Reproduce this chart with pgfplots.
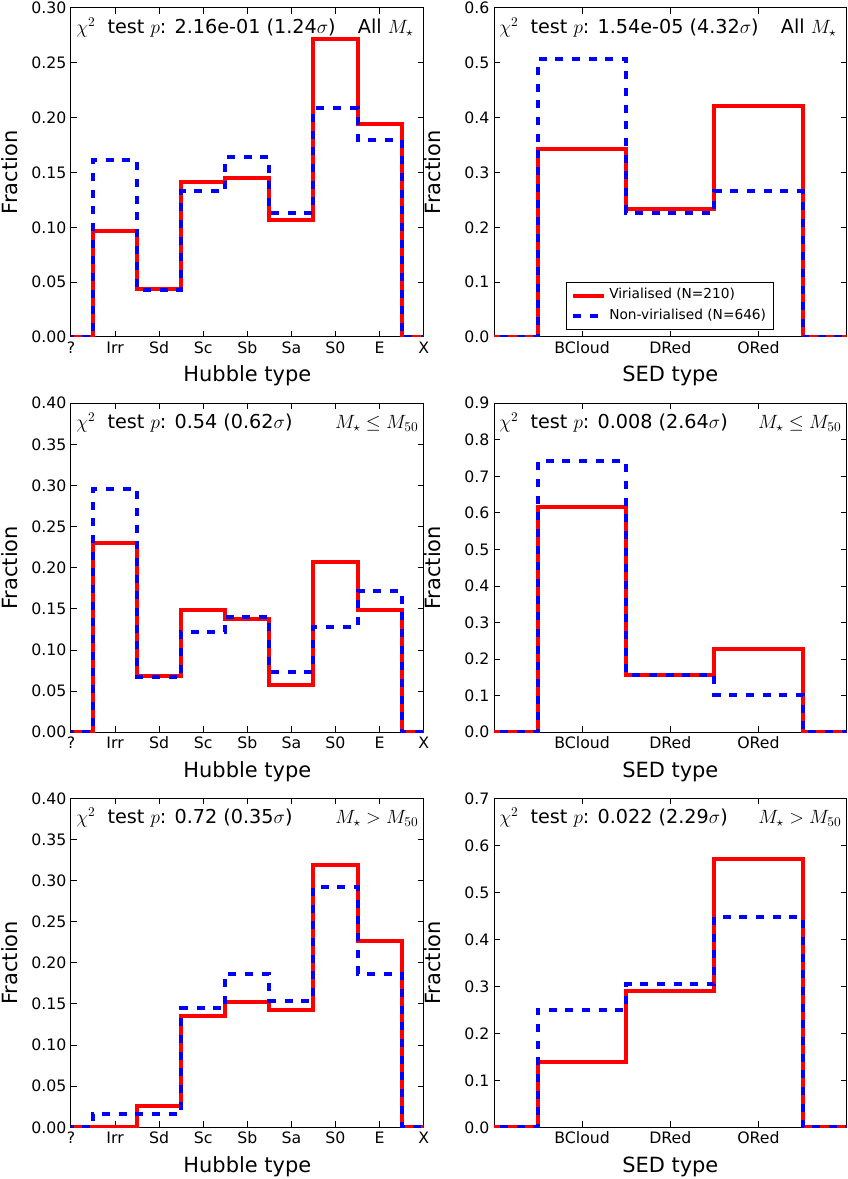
\documentclass[border=0pt]{standalone}
\usepackage{fontspec}
\setmainfont{DejaVu Sans}
\usepackage{pgfplots}
\pgfplotsset{compat=1.18}
\newcommand{\fsT}{\fontsize{11.8}{14}\selectfont}
\newcommand{\fsL}{\fontsize{15.7}{18}\selectfont}
\newcommand{\fsA}{\fontsize{14.4}{17}\selectfont}
\newcommand{\fsG}{\fontsize{10.3}{12}\selectfont}
\pgfplotsset{
  panel/.style={
    scale only axis, width=264.5pt, height=246.75pt,
    axis line style={line width=0.75pt},
    tick align=inside, major tick length=4.5pt,
    tick style={black, line width=0.75pt},
    ymin=0,
    ticklabel style={font=\fsT},
    /pgf/number format/assume math mode=true,
    every axis y label/.style={at={(axis description cs:-0.173,0.5)}, rotate=90, anchor=center, font=\fsL},
    every axis x label/.style={at={(axis description cs:0.5,-0.1368)}, anchor=base, font=\fsL},
    ylabel={Fraction},
  },
  hub/.style={panel, xmin=0, xmax=8, xtick={0,1,2,3,4,5,6,7,8},
    xticklabels={?,Irr,Sd,Sc,Sb,Sa,S0,E,X}, xlabel={Hubble type},
    ytick distance=0.05,
    yticklabel style={/pgf/number format/.cd, fixed, fixed zerofill, precision=2}},
  sed/.style={panel, xmin=-1, xmax=3, xtick={0,1,2},
    xticklabels={BCloud,DRed,ORed}, xlabel={SED type},
    ytick distance=0.1,
    yticklabel style={/pgf/number format/.cd, fixed, fixed zerofill, precision=1}},
  vir/.style={red, line width=3pt, const plot mark left, no marks, line join=miter},
  non/.style={blue, line width=3pt, const plot mark left, no marks, dash pattern=on 6pt off 6.5pt},
}
\newcommand{\annL}[1]{\node[anchor=base west, inner sep=0pt, font=\fsA] at ([xshift=3.75pt,yshift=-19.1pt]rel axis cs:0,1) {$\chi^2$\ \ test $p$: #1};}
\newcommand{\annR}[2]{\node[anchor=base east, inner sep=0pt, font=\fsA] at ([xshift=-#2,yshift=-19.1pt]rel axis cs:1,1) {#1};}
\begin{document}
\begin{tikzpicture}
\useasboundingbox (0,0) rectangle (636pt,884.25pt);
% ---------- Row 1 left
\begin{axis}[hub, at={(53.25pt,878.25pt)}, anchor=north west, ymax=0.30]
\addplot[vir] coordinates {(-0.5,0) (0.5,0.097) (1.5,0.0435) (2.5,0.141) (3.5,0.145) (4.5,0.107) (5.5,0.272) (6.5,0.1945) (7.5,0) (8.5,0)};
\addplot[non] coordinates {(-0.5,0) (0.5,0.161) (1.5,0.043) (2.5,0.133) (3.5,0.164) (4.5,0.113) (5.5,0.2085) (6.5,0.18) (7.5,0) (8.5,0)};
\annL{2.16e-01 (1.24$\sigma$)}
\annR{All $M_\star$}{7.5pt}
\end{axis}
% ---------- Row 1 right
\begin{axis}[sed, at={(370.5pt,878.25pt)}, anchor=north west, ymax=0.6,
  legend style={at={(0.5,0.0213)}, anchor=south, draw=black, line width=0.75pt, font=\fsG,
    nodes={text height=7.5pt, text depth=2.5pt, inner sep=2.8pt}},
  legend cell align=left,
  legend image code/.code={\draw[#1] (0pt,0pt) -- (23pt,0pt);}]
\addplot[vir] coordinates {(-1.5,0) (-0.5,0.343) (0.5,0.233) (1.5,0.422) (2.5,0) (3.5,0)};
\addlegendentry{Virialised (N=210)}
\addplot[non] coordinates {(-1.5,0) (-0.5,0.507) (0.5,0.227) (1.5,0.266) (2.5,0) (3.5,0)};
\addlegendentry{Non-virialised (N=646)}
\annL{1.54e-05 (4.32$\sigma$)}
\annR{All $M_\star$}{7.5pt}
\end{axis}
% ---------- Row 2 left
\begin{axis}[hub, at={(53.25pt,581.8pt)}, anchor=north west, ymax=0.40]
\addplot[vir] coordinates {(-0.5,0) (0.5,0.230) (1.5,0.0685) (2.5,0.149) (3.5,0.138) (4.5,0.058) (5.5,0.2075) (6.5,0.149) (7.5,0) (8.5,0)};
\addplot[non] coordinates {(-0.5,0) (0.5,0.2955) (1.5,0.0677) (2.5,0.122) (3.5,0.140) (4.5,0.0734) (5.5,0.128) (6.5,0.172) (7.5,0) (8.5,0)};
\annL{0.54 (0.62$\sigma$)}
\annR{$M_\star \leq M_{50}$}{3.75pt}
\end{axis}
% ---------- Row 2 right
\begin{axis}[sed, at={(370.5pt,581.8pt)}, anchor=north west, ymax=0.9]
\addplot[vir] coordinates {(-1.5,0) (-0.5,0.616) (0.5,0.157) (1.5,0.227) (2.5,0) (3.5,0)};
\addplot[non] coordinates {(-1.5,0) (-0.5,0.741) (0.5,0.157) (1.5,0.103) (2.5,0) (3.5,0)};
\annL{0.008 (2.64$\sigma$)}
\annR{$M_\star \leq M_{50}$}{3.75pt}
\end{axis}
% ---------- Row 3 left
\begin{axis}[hub, at={(53.25pt,285.5pt)}, anchor=north west, ymax=0.40]
\addplot[vir] coordinates {(-0.5,0) (0.5,0) (1.5,0.0255) (2.5,0.135) (3.5,0.152) (4.5,0.143) (5.5,0.319) (6.5,0.227) (7.5,0) (8.5,0)};
\addplot[non] coordinates {(-0.5,0) (0.5,0.0166) (1.5,0.0166) (2.5,0.1447) (3.5,0.187) (4.5,0.154) (5.5,0.2926) (6.5,0.187) (7.5,0) (8.5,0)};
\annL{0.72 (0.35$\sigma$)}
\annR{$M_\star > M_{50}$}{3.75pt}
\end{axis}
% ---------- Row 3 right
\begin{axis}[sed, at={(370.5pt,285.5pt)}, anchor=north west, ymax=0.7]
\addplot[vir] coordinates {(-1.5,0) (-0.5,0.140) (0.5,0.290) (1.5,0.570) (2.5,0) (3.5,0)};
\addplot[non] coordinates {(-1.5,0) (-0.5,0.2507) (0.5,0.304) (1.5,0.448) (2.5,0) (3.5,0)};
\annL{0.022 (2.29$\sigma$)}
\annR{$M_\star > M_{50}$}{3.75pt}
\end{axis}
\end{tikzpicture}
\end{document}
